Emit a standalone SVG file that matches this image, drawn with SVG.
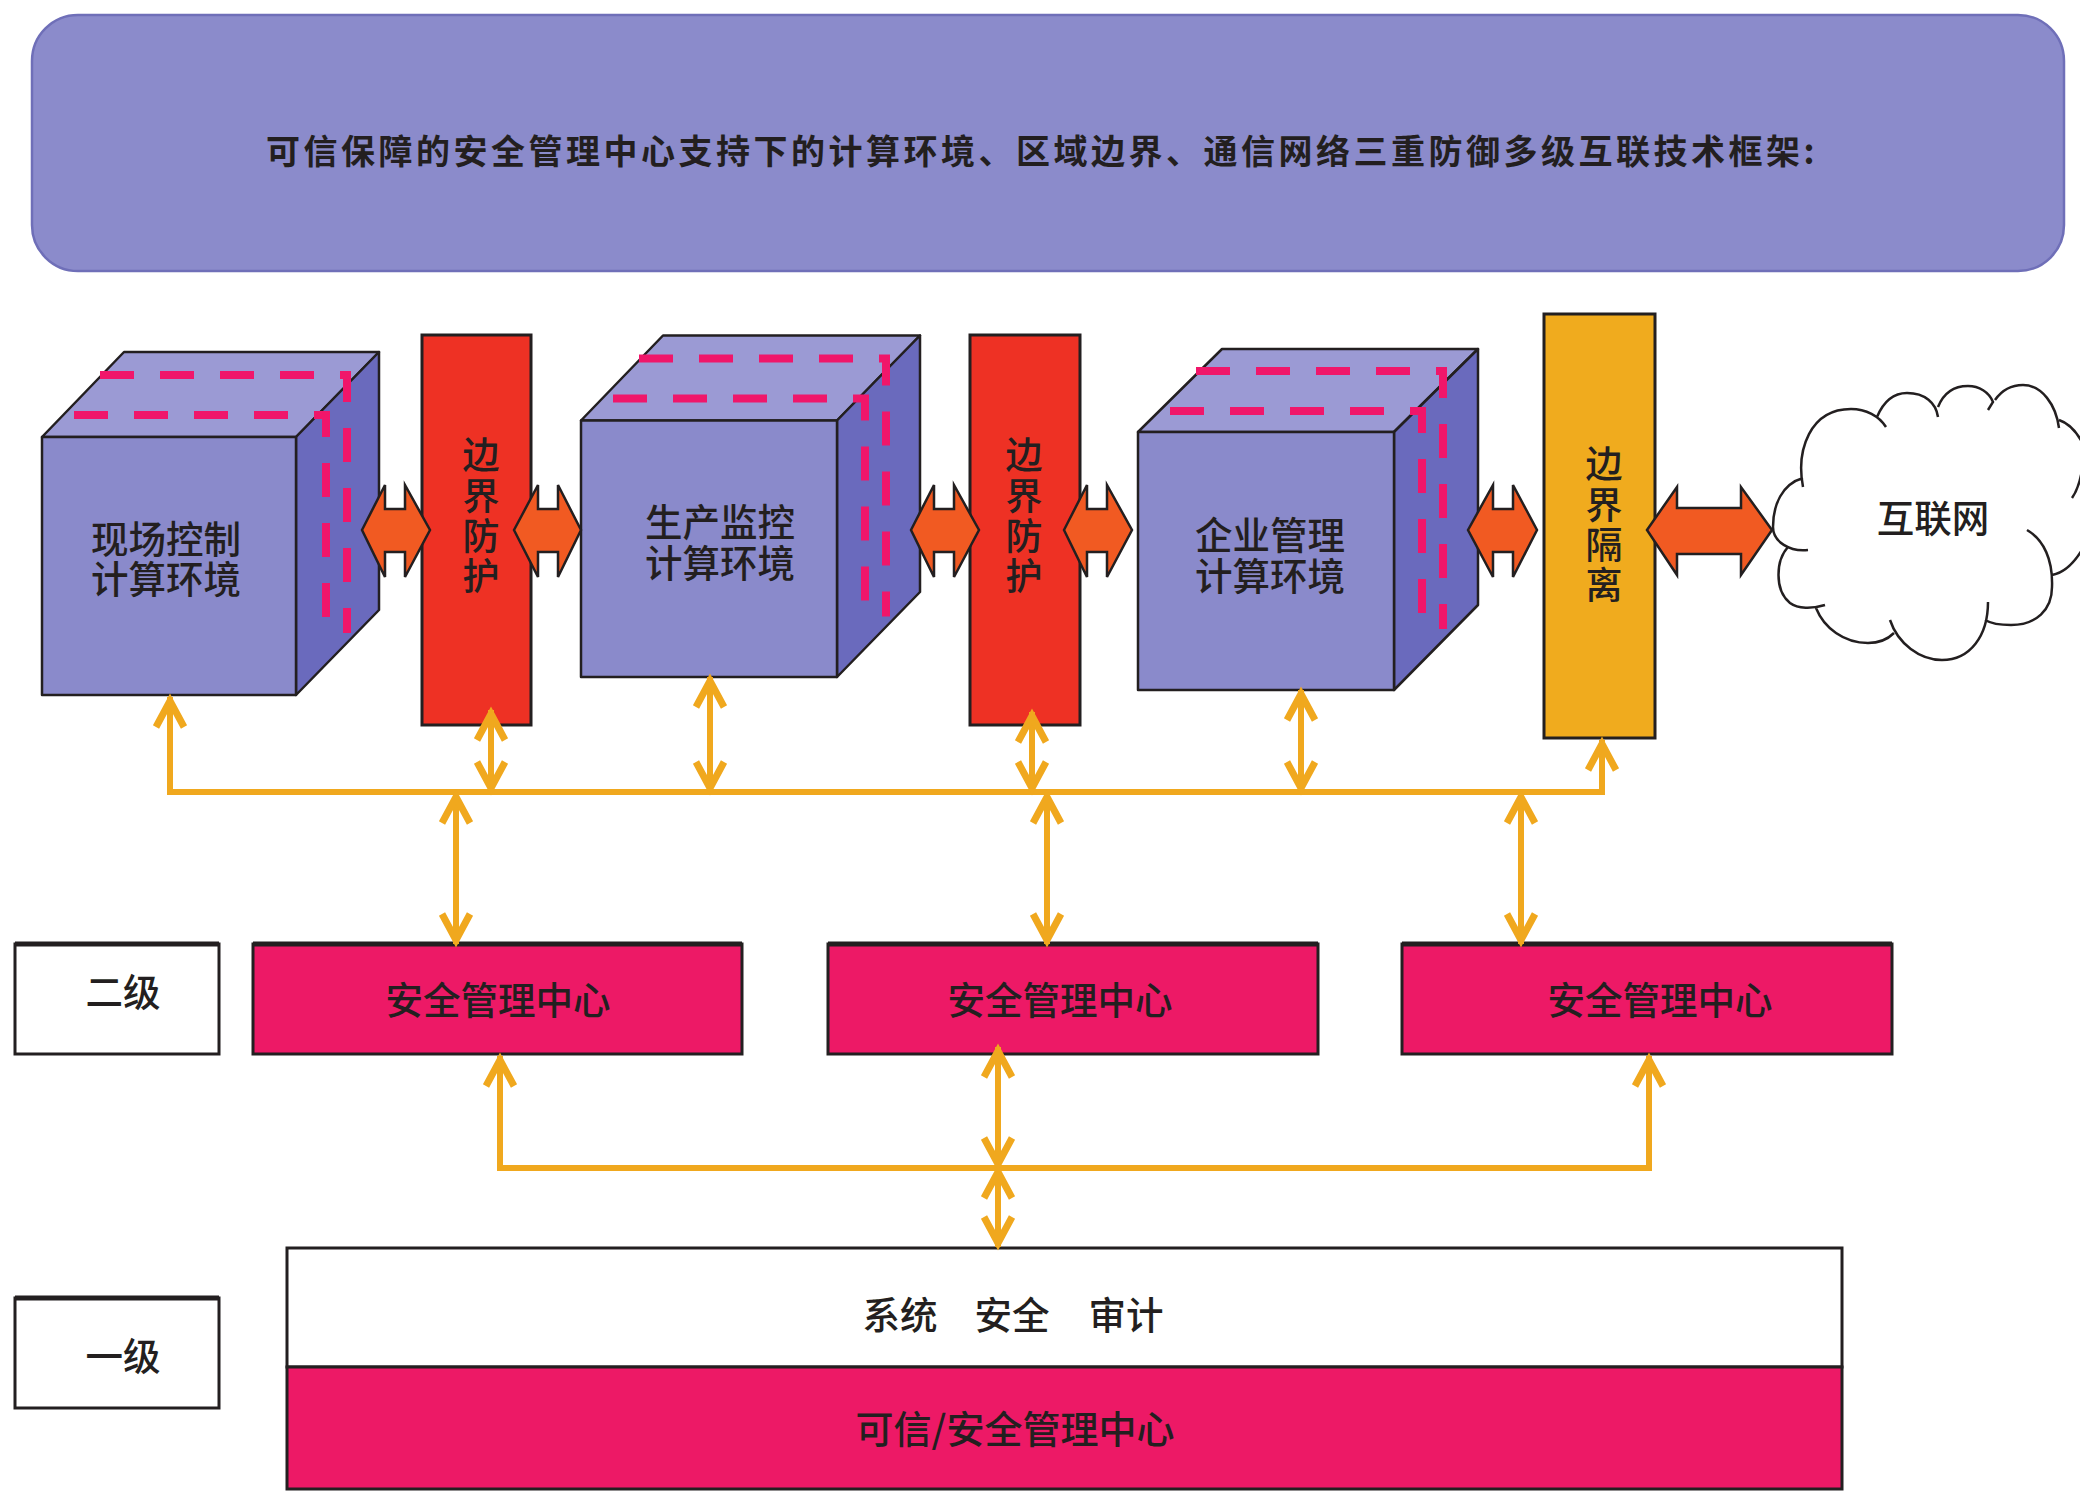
<svg xmlns="http://www.w3.org/2000/svg" width="2080" height="1491" viewBox="0 0 2080 1491">
<defs>
<style>
text{font-family:"Noto Sans CJK SC","Noto Sans",sans-serif;font-weight:500;fill:#231f20;text-anchor:middle;dominant-baseline:central;font-size:37.500px}
.title{font-size:34px;font-weight:700;letter-spacing:3.500px}
.vert{writing-mode:vertical-rl;font-size:37px;letter-spacing:3.300px}
.big{font-size:38px}
.front{fill:#8a8acb;stroke:#231f20;stroke-width:2.500;stroke-linejoin:round}
.top{fill:#9b9ad4;stroke:#231f20;stroke-width:2.500;stroke-linejoin:round}
.side{fill:#6a6abd;stroke:#231f20;stroke-width:2.500;stroke-linejoin:round}
.dash{fill:none;stroke:#f0166a;stroke-width:8;stroke-dasharray:34 26}
.red{fill:#ee3124;stroke:#231f20;stroke-width:3}
.amber{fill:#f0ab1e;stroke:#231f20;stroke-width:3}
.mag{fill:#ed1966;stroke:#231f20;stroke-width:3}
.white{fill:#fff;stroke:#231f20;stroke-width:3}
.edge{fill:none;stroke:#231f20;stroke-width:5}
.fat{fill:#f15a22;stroke:#231f20;stroke-width:2.500;stroke-linejoin:miter}
.bus{fill:none;stroke:#f0a81e;stroke-width:6;stroke-linejoin:miter}
.two{marker-start:url(#ah);marker-end:url(#ah)}
</style>
<marker id="ah" markerUnits="userSpaceOnUse" markerWidth="44" markerHeight="44" viewBox="-38 -22 44 44" refX="0" refY="0" orient="auto-start-reverse" overflow="visible">
<path d="M-30 -14 L-4 0 L-30 14" fill="none" stroke="#f0a81e" stroke-width="7"/>
</marker>
</defs>
<rect width="2080" height="1491" fill="#fff"/>
<g id="banner">
<rect x="32" y="15" width="2032" height="256" rx="46" ry="46" fill="#8b8bcb" stroke="#6f6fb8" stroke-width="2.500"/>
<text class="title" x="1042" y="149">可信保障的安全管理中心支持下的计算环境、区域边界、通信网络三重防御多级互联技术框架:</text>
</g>
<g id="cube-field">
<path class="top" d="M42 437L124 352H379L296 437Z"/>
<path class="side" d="M296 437L379 352V610L296 695Z"/>
<rect class="front" x="42" y="437" width="254" height="258"/>
<path class="dash" d="M74 415H326V632"/>
<path class="dash" d="M100 375H347V633"/>
<text x="166" y="535.500"><tspan x="166">现场控制</tspan><tspan x="166" dy="40">计算环境</tspan></text>
</g>
<g id="cube-monitor">
<path class="top" d="M581 420.500L663 335.500H920L837 420.500Z"/>
<path class="side" d="M837 420.500L920 335.500V592L837 677Z"/>
<rect class="front" x="581" y="420.500" width="256" height="256.500"/>
<path class="dash" d="M613 398.500H865V615.500"/>
<path class="dash" d="M639 358.500H886V616.500"/>
<text x="720" y="519"><tspan x="720">生产监控</tspan><tspan x="720" dy="41">计算环境</tspan></text>
</g>
<g id="cube-enterprise">
<path class="top" d="M1138 432L1222 349H1478L1394 432Z"/>
<path class="side" d="M1394 432L1478 349V605L1394 690Z"/>
<rect class="front" x="1138" y="432" width="256" height="258"/>
<path class="dash" d="M1170 411H1422V628"/>
<path class="dash" d="M1196 371H1443V629"/>
<text x="1270" y="532"><tspan x="1270">企业管理</tspan><tspan x="1270" dy="41">计算环境</tspan></text>
</g>
<g id="border-1">
<rect class="red" x="422" y="335" width="109" height="390"/>
<text class="vert" x="481" y="517.500">边界防护</text>
</g>
<g id="border-2">
<rect class="red" x="970" y="335" width="110" height="390"/>
<text class="vert" x="1024" y="517.500">边界防护</text>
</g>
<g id="border-isolation">
<rect class="amber" x="1544" y="314" width="111" height="424"/>
<text class="vert" x="1604" y="526.500">边界隔离</text>
</g>
<g id="internet">
<path d="M1803 487C1796 450 1810 409 1851 409C1866 409 1879 416 1886 427M1877 417C1885 398 1896 393 1907 393C1925 393 1936 403 1938 417M1938 407C1944 392 1955 386 1968 386C1979 386 1989 392 1993 402L1988 410M1995 400C2002 390 2012 385 2023 385C2042 385 2056 405 2059 428M2059 420C2068 423 2076 431 2082 442M2082 470C2080 482 2077 491 2072 498M1803 478C1782 484 1773 505 1773 527C1773 542 1790 552 1808 550M1788 547C1776 560 1774 590 1790 603C1798 609 1812 609 1825 605M1816 608C1824 628 1844 643 1868 643C1880 643 1888 639 1894 633M1890 620C1898 644 1920 660 1942 660C1970 660 1988 636 1988 602M1985 620C1992 624 2002 625 2011 625C2036 625 2052 610 2052 587C2053 560 2044 540 2027 530M2052 575C2064 573 2074 563 2082 550" fill="none" stroke="#231f20" stroke-width="2.500"/>
<text x="1933" y="515">互联网</text>
</g>
<g id="level-2">
<rect class="white" x="15" y="944" width="204" height="110"/>
<path class="edge" d="M15 944H219"/>
<text x="123" y="989">二级</text>
</g>
<g id="smc-1">
<rect class="mag" x="253" y="944" width="489" height="110"/>
<path class="edge" d="M253 944H742"/>
<text x="498" y="997">安全管理中心</text>
</g>
<g id="smc-2">
<rect class="mag" x="828" y="944" width="490" height="110"/>
<path class="edge" d="M828 944H1318"/>
<text x="1060" y="997">安全管理中心</text>
</g>
<g id="smc-3">
<rect class="mag" x="1402" y="944" width="490" height="110"/>
<path class="edge" d="M1402 944H1892"/>
<text x="1660" y="997">安全管理中心</text>
</g>
<g id="level-1">
<rect class="white" x="15" y="1298" width="204" height="110"/>
<path class="edge" d="M15 1298H219"/>
<text x="123" y="1353">一级</text>
</g>
<g id="audit">
<rect class="white" x="287" y="1248" width="1555" height="119"/>
<text x="900" y="1312">系统</text><text x="1012" y="1312">安全</text><text x="1126" y="1312">审计</text>
</g>
<g id="trusted-smc">
<rect class="mag" x="287" y="1367" width="1555" height="122"/>
<text class="big" x="1015" y="1426">可信/安全管理中心</text>
</g>
<g id="connectors">
<path class="fat" d="M362 530L385 485V509H405V485L430 530L405 577V552H385V577Z"/>
<path class="fat" d="M514 530L538 485V509H558V485L581 530L558 577V552H538V577Z"/>
<path class="fat" d="M911 530L934 485V509H954V485L979 530L954 577V552H934V577Z"/>
<path class="fat" d="M1064 530L1087 485V509H1107V485L1132 530L1107 577V552H1087V577Z"/>
<path class="fat" d="M1468 530L1493 485V509H1513V485L1537 530L1513 577V552H1493V577Z"/>
<path class="fat" d="M1647 530L1677 487V508H1741V487L1772 530L1741 575V554H1677V575Z"/>
<path class="bus two" d="M170 697V792H1602V740"/>
<path class="bus two" d="M491 710V792"/>
<path class="bus two" d="M710 677V792"/>
<path class="bus two" d="M1032 712V792"/>
<path class="bus two" d="M1301 690V792"/>
<path class="bus two" d="M456 793V944"/>
<path class="bus two" d="M1047 793V944"/>
<path class="bus two" d="M1521 793V944"/>
<path class="bus two" d="M500 1056V1168H1649V1056"/>
<path class="bus two" d="M998 1047V1168"/>
<path class="bus two" d="M998 1168V1247"/>
</g>
</svg>
